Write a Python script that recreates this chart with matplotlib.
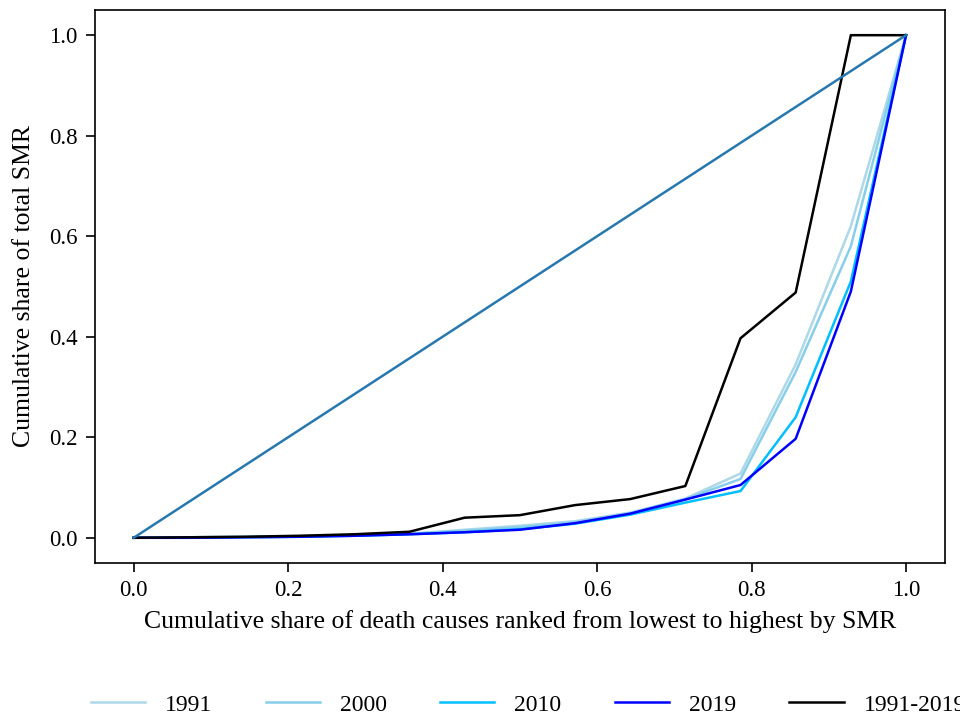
import matplotlib
matplotlib.use('Agg')
import matplotlib.pyplot as plt
import numpy as np

plt.rcParams['font.family'] = ['Liberation Serif', 'DejaVu Serif']
plt.rcParams['font.size'] = 18.5

# cumulative share of death causes (15 points, steps of 1/14)
x_share = np.linspace(0, 1, 15)

smr_1991 = [0, 0.001, 0.002, 0.003, 0.005, 0.008, 0.016, 0.024, 0.033, 0.050, 0.078, 0.128, 0.345, 0.620, 1.0]
smr_2000 = [0, 0.001, 0.002, 0.003, 0.005, 0.008, 0.014, 0.021, 0.031, 0.049, 0.077, 0.117, 0.330, 0.580, 1.0]
smr_2010 = [0, 0.000, 0.001, 0.002, 0.004, 0.007, 0.011, 0.017, 0.028, 0.046, 0.070, 0.093, 0.240, 0.510, 1.0]
smr_2019 = [0, 0.000, 0.001, 0.002, 0.004, 0.007, 0.011, 0.016, 0.029, 0.048, 0.076, 0.105, 0.197, 0.490, 1.0]
smr_all = [0, 0.001, 0.002, 0.004, 0.007, 0.012, 0.040, 0.045, 0.065, 0.077, 0.103, 0.397, 0.488, 1.0, 1.0]

series = [('1991', smr_1991, '#ADD8E6'),
          ('2000', smr_2000, '#87CEEB'),
          ('2010', smr_2010, '#00BFFF'),
          ('2019', smr_2019, '#0000FF'),
          ('1991-2019', smr_all, '#000000')]

fig = plt.figure(figsize=(9.6, 7.18), dpi=100)
ax = fig.add_axes([0.099, 0.216, 0.885, 0.770])

for label, vals, col in series:
    ax.plot(x_share, vals, color=col, lw=1.8, label=label)

# line of equality
ax.plot([0, 1], [0, 1], color='#2878b0', lw=1.8)

ax.set_xlim(-0.05, 1.05)
ax.set_ylim(-0.05, 1.05)
ax.set_xticks([0, 0.2, 0.4, 0.6, 0.8, 1.0])
ax.set_yticks([0, 0.2, 0.4, 0.6, 0.8, 1.0])
ax.tick_params(length=6.5, width=1.2, labelsize=16.5, pad=6)
for s in ax.spines.values():
    s.set_linewidth(1.2)

ax.set_xlabel('Cumulative share of death causes ranked from lowest to highest by SMR',
              fontsize=18.5, labelpad=6)
ax.set_ylabel('Cumulative share of total SMR', fontsize=18.5, labelpad=10)

ax.legend(loc='center', bbox_to_anchor=(0.51, -0.257), ncol=5, frameon=False,
          fontsize=17, handlelength=2.3, handletextpad=0.85, columnspacing=2.25)

fig.savefig('out.png', dpi=100)
